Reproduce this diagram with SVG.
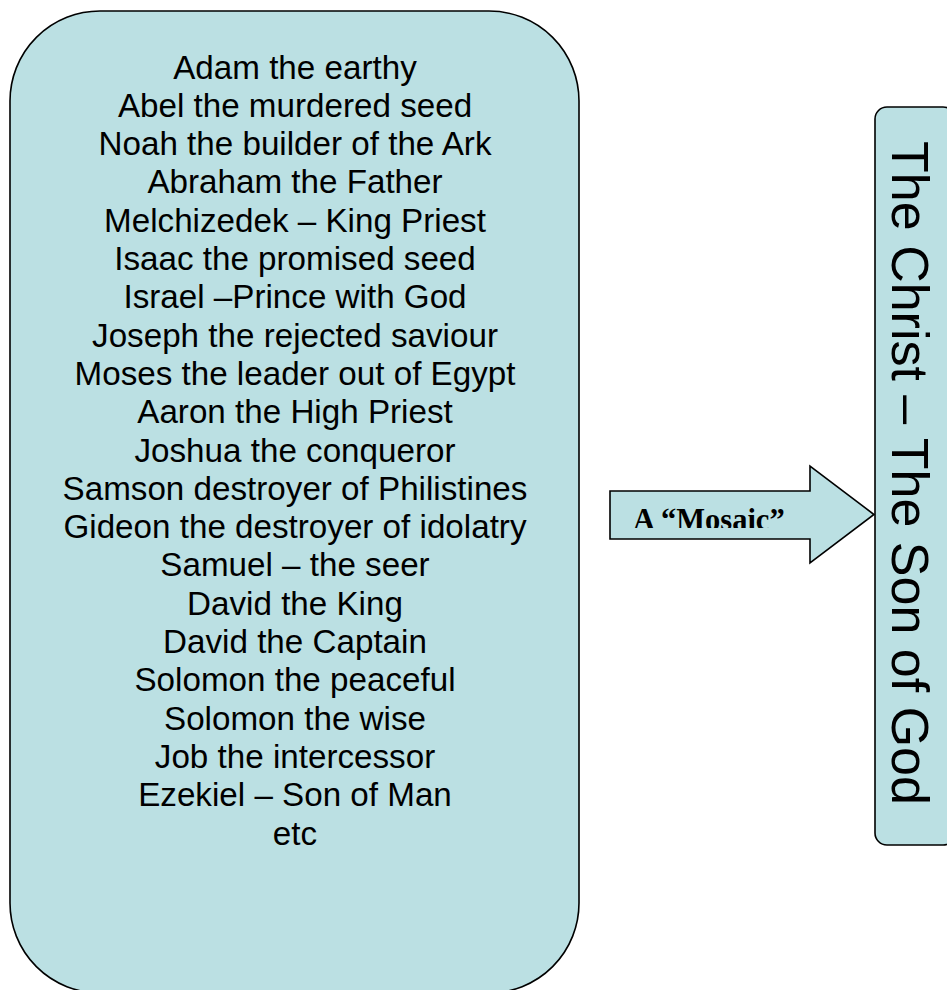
<svg xmlns="http://www.w3.org/2000/svg" width="947" height="990" viewBox="0 0 947 990">
<style>
.box{fill:#BBE0E3;stroke:#000;stroke-width:1.6}
.list{font-family:"Liberation Sans",Arial,sans-serif;font-size:33.2px;fill:#000;text-anchor:middle}
.big{font-family:"Liberation Sans",Arial,sans-serif;font-size:52px;fill:#000;text-anchor:middle}
.lbl{font-family:"Liberation Serif","Times New Roman",serif;font-size:30.5px;font-weight:bold;fill:#000}
</style>
<defs>
<clipPath id="clipLbl"><rect x="612" y="492" width="196" height="36"/></clipPath>
</defs>
<rect width="947" height="990" fill="#fff"/>
<g id="types">
<rect class="box" x="10" y="11" width="569" height="982" rx="90" ry="90"/>
<text class="list" x="295" y="78.5">Adam the earthy</text>
<text class="list" x="295" y="116.8">Abel the murdered seed</text>
<text class="list" x="295" y="155.1">Noah the builder of the Ark</text>
<text class="list" x="295" y="193.4">Abraham the Father</text>
<text class="list" x="295" y="231.7">Melchizedek – King Priest</text>
<text class="list" x="295" y="270">Isaac the promised seed</text>
<text class="list" x="295" y="308.3">Israel –Prince with God</text>
<text class="list" x="295" y="346.6">Joseph the rejected saviour</text>
<text class="list" x="295" y="384.9">Moses the leader out of Egypt</text>
<text class="list" x="295" y="423.2">Aaron the High Priest</text>
<text class="list" x="295" y="461.5">Joshua the conqueror</text>
<text class="list" x="295" y="499.8">Samson destroyer of Philistines</text>
<text class="list" x="295" y="538.1">Gideon the destroyer of idolatry</text>
<text class="list" x="295" y="576.4">Samuel – the seer</text>
<text class="list" x="295" y="614.7">David the King</text>
<text class="list" x="295" y="653">David the Captain</text>
<text class="list" x="295" y="691.3">Solomon the peaceful</text>
<text class="list" x="295" y="729.6">Solomon the wise</text>
<text class="list" x="295" y="767.9">Job the intercessor</text>
<text class="list" x="295" y="806.2">Ezekiel – Son of Man</text>
<text class="list" x="295" y="844.5">etc</text>
</g>
<g id="connectors">
<g id="arrow">
<polygon class="box" points="610,491 810,491 810,466 874,514.5 810,563 810,539 610,539"/>
<text class="lbl" x="633" y="529.5" clip-path="url(#clipLbl)">A “Mosaic”</text>
</g>
</g>
<g id="christ">
<rect class="box" x="875" y="107" width="80" height="738" rx="12" ry="12"/>
<text class="big" transform="translate(892,473) rotate(90)" x="0" y="0">The Christ – The Son of God</text>
</g>
</svg>
